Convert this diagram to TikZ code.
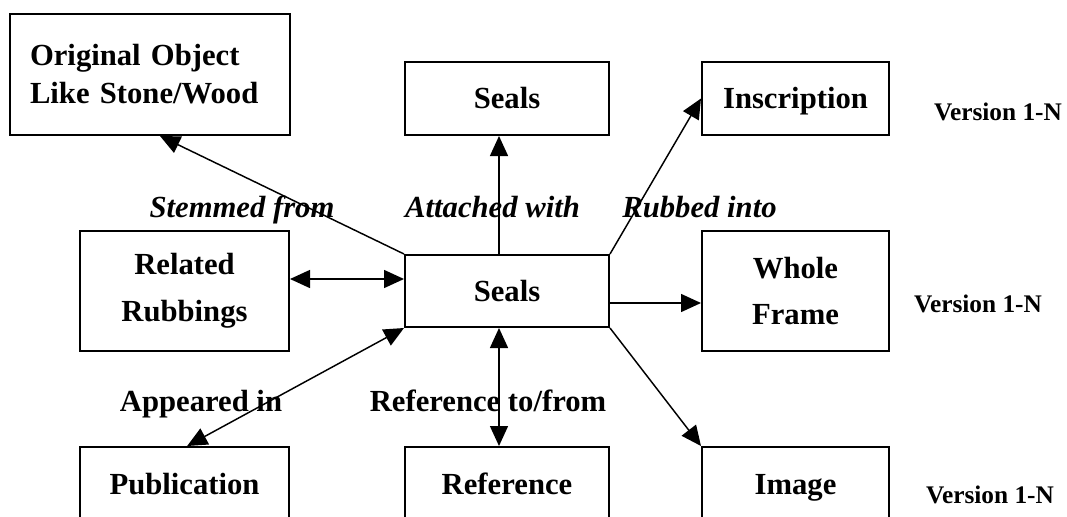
\documentclass[tikz,border=0pt]{standalone}
\usepackage{fontspec}
\setmainfont{Liberation Serif}
\usetikzlibrary{arrows.meta}
\begin{document}
\begin{tikzpicture}[x=0.75pt,y=-0.75pt,
  box/.style={draw,line width=1.5pt,inner sep=0pt,font=\fontsize{23}{35}\selectfont\bfseries,align=center},
  onebox/.style={box,text height=15.2pt,text depth=0pt},
  lbl/.style={inner sep=0pt,anchor=base,font=\fontsize{23}{28}\selectfont\bfseries},
  ilbl/.style={lbl,font=\fontsize{23}{28}\selectfont\bfseries\itshape},
  ver/.style={inner sep=0pt,font=\fontsize{19}{23}\selectfont\bfseries},
  conn/.style={line width=1.1pt,-{Triangle[length=15pt,width=13.5pt]}},
  bconn/.style={line width=1.1pt,{Triangle[length=15pt,width=13.5pt]}-{Triangle[length=15pt,width=13.5pt]}}]
\clip (0,0) rectangle (1067,517);
\useasboundingbox (0,0) rectangle (1067,517);
\fill[white] (0,0) rectangle (1067,517);
% boxes
\node[box,minimum width=210pt,minimum height=90.75pt,text width=180pt,inner xsep=15pt,align=left,
  font=\fontsize{23}{28.5}\selectfont\bfseries] (orig) at (150,74.5) {Original Object\\Like Stone/Wood};
\node[onebox,minimum width=153pt,minimum height=54.75pt] (sealt) at (507,98.5) {Seals};
\node[onebox,minimum width=140.25pt,minimum height=54.75pt] (insc) at (795.5,98.5) {Inscription};
\node[box,minimum width=156.75pt,minimum height=90pt] (rel) at (184.5,291) {Related\\Rubbings};
\node[onebox,minimum width=153pt,minimum height=54pt] (sealc) at (507,291) {Seals};
\node[box,minimum width=140.25pt,minimum height=90pt] (whole) at (795.5,291) {Whole\\Frame};
\node[onebox,minimum width=156.75pt,minimum height=55.5pt] (pub) at (184.5,484) {Publication};
\node[onebox,minimum width=153pt,minimum height=55.5pt] (ref) at (507,484) {Reference};
\node[onebox,minimum width=140.25pt,minimum height=55.5pt] (img) at (795.5,484) {Image};
% version labels
\node[ver] (v1) at (998,112) {Version 1-N};
\node[ver] (v2) at (978,304) {Version 1-N};
\node[ver] (v3) at (990,495) {Version 1-N};
% connectors
\draw[conn] (sealc.north west) -- ([xshift=7.5pt]orig.south);
\draw[conn] ([xshift=-6pt]sealc.north) -- ([xshift=-6pt]sealt.south);
\draw[conn] (sealc.north east) -- (insc.west);
\draw[bconn] ([yshift=9pt]rel.east) -- ([yshift=9pt]sealc.west);
\draw[conn] ([yshift=-9pt]sealc.east) -- ([yshift=-9pt]whole.west);
\draw[conn] (sealc.south east) -- (img.north west);
\draw[bconn] (sealc.south west) -- ([xshift=2pt]pub.north);
\draw[bconn] ([xshift=-6pt]sealc.south) -- ([xshift=-6pt]ref.north);
% connector labels
\node[ilbl] (l1) at (242,217) {Stemmed from};
\node[ilbl] (l2) at (492.5,217) {Attached with};
\node[ilbl] (l3) at (699.5,217) {Rubbed into};
\node[lbl] (l4) at (201,411) {Appeared in};
\node[lbl] (l5) at (488,411) {Reference to/from};
\end{tikzpicture}
\end{document}
